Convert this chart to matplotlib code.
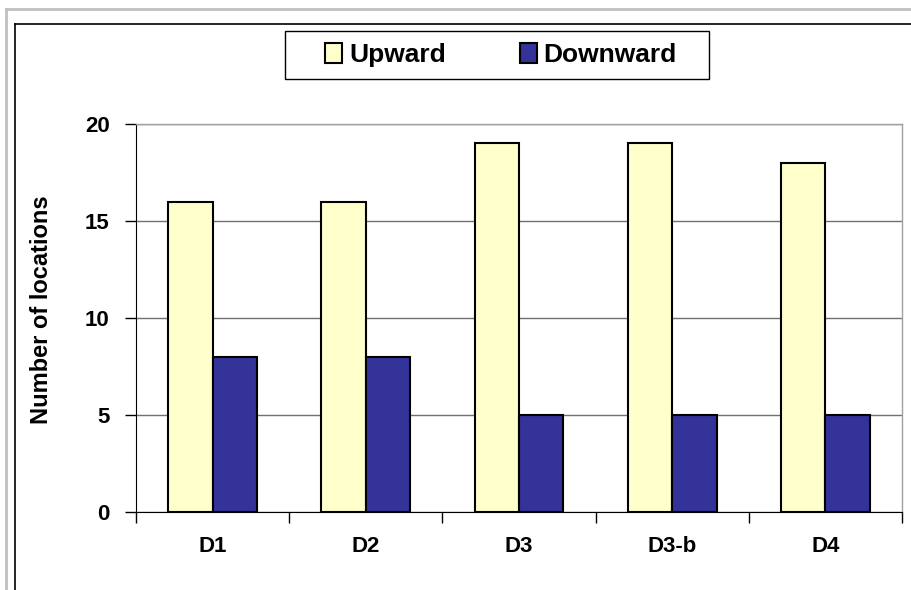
import matplotlib
matplotlib.use("Agg")
import matplotlib.pyplot as plt
from matplotlib.lines import Line2D
from matplotlib.patches import Rectangle
import numpy as np

categories = ["D1", "D2", "D3", "D3-b", "D4"]
upward = [16, 16, 19, 19, 18]
downward = [8, 8, 5, 5, 5]
yticks = [0, 5, 10, 15, 20]

plt.rcParams['font.family'] = ['Liberation Sans', 'DejaVu Sans']

W, H = 912, 590
fig = plt.figure(figsize=(W / 100, H / 100), dpi=100)

# outer frames
fig.add_artist(Line2D([6 / W, 1], [1 - 9 / H, 1 - 9 / H], color="#c0c0c0", lw=2))
fig.add_artist(Line2D([6 / W, 6 / W], [0, 1 - 9 / H], color="#c0c0c0", lw=2))
fig.add_artist(Line2D([15 / W, 1], [1 - 24 / H, 1 - 24 / H], color="black", lw=1.2))
fig.add_artist(Line2D([15 / W, 15 / W], [0, 1 - 24 / H], color="black", lw=1.2))

left, right, top, bottom = 136, 902, 124, 512
ax = fig.add_axes([left / W, 1 - bottom / H, (right - left) / W, (bottom - top) / H])

x = np.arange(len(categories))
bw = 0.29
ax.bar(x - bw / 2, upward, bw, color="#FFFFCC", edgecolor="black", linewidth=1.5, zorder=3, label="Upward")
ax.bar(x + bw / 2, downward, bw, color="#333399", edgecolor="black", linewidth=1.5, zorder=3, label="Downward")

ax.set_xlim(-0.5, len(categories) - 0.5)
ax.set_ylim(0, 20)
ax.set_yticks(yticks)
ax.set_yticklabels([str(v) for v in yticks], fontsize=16, fontweight="bold")
ax.yaxis.grid(True, color="#707070", lw=1, zorder=0)
ax.set_xticks(x)
ax.set_xticklabels(categories, fontsize=16, fontweight="bold")
ax.tick_params(axis="x", length=0, pad=17)
ax.set_xticks(np.arange(-0.5, len(categories)), minor=True)
ax.tick_params(axis="x", which="minor", length=8, width=1, color="black", direction="out")
ax.tick_params(axis="y", length=8, width=1, color="black", direction="out", pad=11)

for s in ["top", "right"]:
    ax.spines[s].set_color("#a0a0a0")
    ax.spines[s].set_linewidth(1)
ax.spines["left"].set_color("black")
ax.spines["bottom"].set_color("black")

fig.text(42 / W, 1 - 310 / H, "Number of locations", rotation=90, ha="center", va="center",
         fontsize=17, fontweight="bold")

# legend box
fig.add_artist(Rectangle((285 / W, 1 - 79 / H), (709 - 285) / W, 48 / H,
                         transform=fig.transFigure, facecolor="white", edgecolor="black", lw=1))
leg = fig.legend(loc="center", bbox_to_anchor=(501 / W, 1 - 55 / H), ncol=2,
                 prop={"size": 19, "weight": "bold"}, frameon=False,
                 handlelength=0.65, handleheight=0.8, handletextpad=0.25,
                 columnspacing=2.8, borderpad=0.3)
leg.set_zorder(5)

fig.savefig("out.png", dpi=100)
